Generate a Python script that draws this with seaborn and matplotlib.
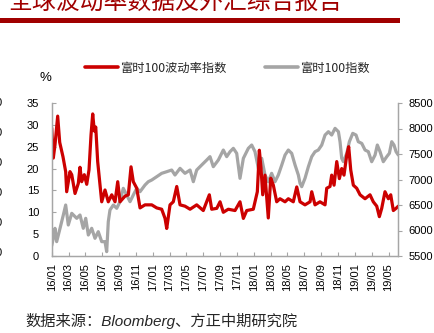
import matplotlib
matplotlib.use("Agg")
import matplotlib.pyplot as plt
from matplotlib.patches import Rectangle
from matplotlib.lines import Line2D
import seaborn as sns
import pandas as pd

# ---------------- data (time axis in months since 2016-01) ----------------
vol_t = [0.0, 0.19, 0.39, 0.71, 0.95, 1.34, 1.66, 1.78, 2.17, 2.38, 2.77, 3.16, 3.36, 3.56,
         3.87, 4.16, 4.43, 4.67, 4.87, 5.06, 5.23, 5.46, 5.74, 5.94, 6.33, 6.72, 7.13, 7.52,
         7.84, 8.11, 8.71, 9.10, 9.42, 9.69, 10.10, 10.49, 11.08, 11.88, 12.47, 13.06, 13.46,
         13.66, 14.05, 14.44, 14.85, 15.24, 15.83, 16.43, 17.22, 18.00, 18.72, 19.00, 19.60,
         19.99, 20.38, 20.97, 21.77, 22.36, 22.76, 23.16, 23.94, 24.42, 24.66, 24.86, 25.06,
         25.33, 25.72, 26.01, 26.32, 26.72, 27.11, 27.71, 28.10, 28.69, 29.10, 29.49, 30.08,
         30.68, 30.88, 31.27, 31.86, 32.46, 32.66, 33.05, 33.25, 33.53, 33.85, 34.16, 34.44,
         34.71, 35.04, 35.27, 35.51, 35.82, 36.22, 36.62, 37.21, 37.80, 38.19, 38.60, 38.91,
         39.19, 39.58, 39.98, 40.26, 40.57, 40.89, 41.16]
vol_v = [29.3, 22.4, 25.4, 32.0, 26.0, 22.7, 19.3, 14.7, 19.3, 18.6, 14.3, 16.6, 20.3, 17.0,
         18.6, 16.4, 19.7, 27.7, 32.5, 28.6, 29.5, 21.6, 16.2, 12.4, 15.1, 12.4, 14.0, 12.4,
         17.0, 12.4, 13.7, 14.0, 20.4, 17.0, 15.5, 11.0, 11.7, 11.7, 11.0, 10.7, 8.6,
         6.3, 11.7, 12.4, 15.9, 11.7, 11.4, 10.7, 11.7, 10.4, 14.0, 10.7, 10.9,
         12.4, 10.0, 10.7, 10.4, 12.4, 8.6, 10.4, 10.7, 14.7, 24.2, 20.0, 14.0,
         18.5, 8.7, 17.8, 16.2, 12.4, 13.1, 12.4, 13.1, 12.4, 15.8, 12.4, 11.7,
         12.4, 14.7, 11.7, 12.4, 11.7, 15.5, 15.9, 18.5, 16.2, 21.6, 17.7, 20.0,
         18.5, 23.1, 25.0, 19.7, 16.2, 15.5, 14.0, 13.1, 14.0, 12.4, 11.4, 9.0,
         10.9, 14.7, 13.1, 14.0, 10.4, 10.9, 11.4]

ftse_t = [0.0, 0.19, 0.39, 0.59, 0.99, 1.38, 1.66, 1.97, 2.38, 2.97, 3.36, 3.75, 4.04, 4.35,
          4.75, 5.14, 5.53, 5.94, 6.33, 6.53, 6.72, 6.92, 7.32, 7.72, 8.11, 8.50, 8.91, 9.30,
          9.69, 10.10, 10.49, 11.08, 11.47, 11.88, 12.47, 13.06, 13.66, 14.25, 14.64, 15.24,
          15.83, 16.43, 16.82, 17.22, 17.81, 18.41, 18.80, 19.19, 19.79, 20.38, 20.78, 21.18,
          21.57, 21.97, 22.36, 22.76, 23.35, 23.75, 24.14, 24.54, 24.94, 25.33, 25.72, 26.12,
          26.52, 26.91, 27.32, 27.71, 28.10, 28.50, 28.90, 29.29, 29.49, 29.69, 30.08, 30.48,
          30.88, 31.27, 31.66, 32.07, 32.46, 32.86, 33.25, 33.65, 34.05, 34.24, 34.44, 34.64,
          35.04, 35.35, 35.75, 36.14, 36.41, 36.82, 37.21, 37.60, 38.00, 38.40, 38.67, 38.99,
          39.38, 39.79, 40.10, 40.38, 40.65, 40.89, 41.16]
ftse_v = [5700, 5847, 6043, 5781, 6043, 6304, 6500, 6108, 6337, 6239, 6304, 6043, 6239, 5912,
          6043, 5847, 5977, 5781, 5781, 5585, 6173, 6402, 6500, 6435, 6565, 6827, 6696, 6565,
          6696, 6827, 6761, 6892, 6957, 6990, 7055, 7121, 7153, 7186, 7088, 7219,
          7121, 7186, 6957, 7186, 7284, 7382, 7448, 7251, 7382, 7578, 7448, 7546,
          7611, 7513, 7023, 7415, 7611, 7676, 7546, 7219, 7415, 7088, 6957, 7121,
          6957, 7088, 7284, 7480, 7578, 7513, 7284, 7088, 6925, 6859, 7023, 7251,
          7448, 7545, 7578, 7676, 7872, 7937, 7872, 8003, 7937, 7741, 7415, 7349,
          7513, 7741, 7905, 7872, 7741, 7708, 7578, 7546, 7349, 7480, 7676, 7546,
          7349, 7448, 7513, 7741, 7676, 7546, 7480]

tick_pos = list(range(0, 41, 2))
tick_labels = ["16/01", "16/03", "16/05", "16/07", "16/09", "16/11",
               "17/01", "17/03", "17/05", "17/07", "17/09", "17/11",
               "18/01", "18/03", "18/05", "18/07", "18/09", "18/11",
               "19/01", "19/03", "19/05"]
left_ticks = [0, 5, 10, 15, 20, 25, 30, 35]
right_ticks = [5500, 6000, 6500, 7000, 7500, 8000, 8500]

title_text = "全球波动率数据及外汇综合报告"
vol_name = "富时100波动率指数"
ftse_name = "富时100指数"
source_text = "数据来源：Bloomberg、方正中期研究院"

# ---------------- style ----------------
sns.set_theme(style="white")
plt.rcParams["font.family"] = ["Liberation Sans", "Noto Sans CJK SC", "DejaVu Sans"]

RED = "#CC0000"
GRAY = "#A5A5A5"
SPINE = "#A6A6A6"
DARKRED = "#A00000"

W, H = 435, 333
fig = plt.figure(figsize=(W / 100, H / 100), dpi=100)
fig.patch.set_facecolor("white")

ax = fig.add_axes([51.7 / W, 1 - 256 / H, (398.3 - 51.7) / W, (256 - 103) / H])
ax2 = ax.twinx()

df_vol = pd.DataFrame({"t": vol_t, "v": vol_v})
df_ftse = pd.DataFrame({"t": ftse_t, "v": ftse_v})

sns.lineplot(data=df_ftse, x="t", y="v", ax=ax2, color=GRAY, linewidth=2.3,
             estimator=None, sort=False)
sns.lineplot(data=df_vol, x="t", y="v", ax=ax, color=RED, linewidth=2.3,
             estimator=None, sort=False)

# draw red on top of grey
ax.set_zorder(ax2.get_zorder() + 1)
ax.patch.set_visible(False)

ax.set_xlim(0, 41.16)
ax.set_ylim(0, 35)
ax2.set_ylim(5500, 8500)
ax.set_xticks(tick_pos)
ax.set_xticklabels(tick_labels, rotation=90)
ax.set_yticks(left_ticks)
ax.set_yticklabels([str(v) for v in left_ticks])
ax2.set_yticks(right_ticks)
ax2.set_yticklabels([str(v) for v in right_ticks])
for a in (ax, ax2):
    a.set_xlabel("")
    a.set_ylabel("")
    a.grid(False)
    for s in a.spines.values():
        s.set_color(SPINE)
        s.set_linewidth(0.9)
    a.spines["top"].set_visible(False)

ax.tick_params(axis="x", direction="in", length=3, color=SPINE, width=0.8,
               labelsize=8, pad=5, labelcolor="black", bottom=True)
ax.tick_params(axis="y", direction="in", length=3, color=SPINE, width=0.8,
               labelsize=8, pad=9, labelcolor="black", left=True)
ax2.tick_params(axis="y", direction="out", length=3, color=SPINE, width=0.8,
                labelsize=8, pad=4.5, labelcolor="black", right=True)

# legend
handles = [Line2D([], [], color=RED, lw=2.6), Line2D([], [], color=GRAY, lw=2.6)]
leg = fig.legend(handles, [vol_name, ftse_name], loc="center left",
                 bbox_to_anchor=(85 / W, 1 - 68 / H), ncol=2, frameon=False,
                 prop={"family": ["Noto Sans CJK SC", "DejaVu Sans"], "size": 8.8},
                 handlelength=2.7, handletextpad=0.2, columnspacing=3.1,
                 borderaxespad=0, borderpad=0)

# "%" unit
fig.text(45 / W, 1 - 78 / H, "%", ha="center", va="center", fontsize=9.5, color="black")

# title (cut at top) and red rule
fig.text(8 / W, 1 - 8.5 / H, title_text, ha="left", va="baseline", fontsize=17.2,
         color=DARKRED, family=["Noto Sans CJK SC", "DejaVu Sans"])
fig.patches.append(Rectangle((0, 1 - 22.5 / H), 400 / W, 5 / H, transform=fig.transFigure,
                             facecolor=DARKRED, edgecolor="none"))

# source note
fig.text(25 / W, 1 - 326 / H, source_text, ha="left", va="baseline", fontsize=11,
         color="#262626", style="italic",
         family=["Liberation Sans", "Noto Sans CJK SC", "DejaVu Sans"])

# cut-off tick labels of neighbouring chart on the left edge
for k in range(6):
    fig.text(2 / W, 1 - (103 + 30 * k) / H, "0", ha="right", va="center", fontsize=8,
             color="black")

fig.savefig("out.png", dpi=100, facecolor="white")
